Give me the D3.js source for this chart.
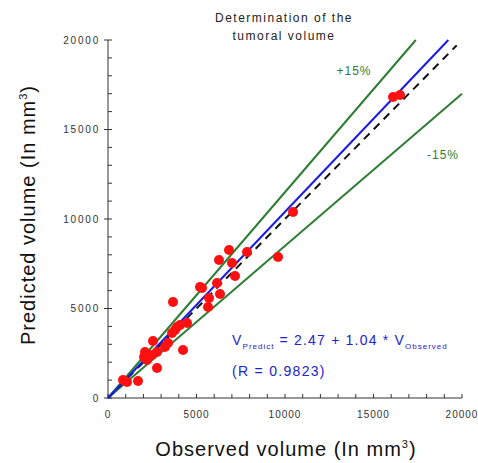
<!DOCTYPE html>
<html>
<head>
<meta charset="utf-8">
<script src="https://cdn.jsdelivr.net/npm/d3@7"></script>
<style>
  body { margin: 0; background: #fff; }
  text { font-family: "Liberation Sans", Arial, sans-serif; }
</style>
</head>
<body>
<div class="chart"></div>
<script>
// observed vs predicted tumoral volume (mm3)
const observed = [848, 1074, 1695, 2090, 2034, 2204, 2486, 2543, 2769, 2769, 3221, 3390, 3616, 3786, 3899, 4068,
    4238, 4464, 3673, 5198, 5311, 5650, 5707, 6159, 6328, 6272, 7006, 7176, 6837, 7854, 9605, 10453, 16103, 16498];
const predicted = [1006, 894, 950, 2570, 2291, 2123, 2402, 3185, 2570, 1676, 2849, 3073, 3632, 3799, 3967, 4079,
    2682, 4190, 5364, 6202, 6146, 5084, 5587, 6425, 5810, 7710, 7542, 6816, 8269, 8157, 7878, 10392, 16817, 16929];
const xTicks = [0, 5000, 10000, 15000, 20000];
const yTicks = [0, 5000, 10000, 15000, 20000];

const intercept = 2.47, slope = 1.04;

const W = 478, H = 463;
const margin = { top: 40, right: 16, bottom: 65, left: 108 };

const svg = d3.select(".chart")
    .append("svg")
    .attr("width", W)
    .attr("height", H)
    .append("g")
    .attr("transform", `translate(${margin.left},${margin.top})`);

const x = d3.scaleLinear().domain([0, 20000]).range([0, 354]);
const y = d3.scaleLinear().domain([0, 20000]).range([358, 0]);

const minor = d3.range(0, 20001, 1000);

// x axis
const xg = svg.append("g").attr("transform", `translate(0,${y(0)})`);
xg.append("line").attr("x1", 0).attr("x2", x(20000)).attr("stroke", "#333");
xg.selectAll(".mt").data(minor).join("line")
    .attr("x1", d => x(d)).attr("x2", d => x(d))
    .attr("y1", 0).attr("y2", -4)
    .attr("stroke", "#333");
xg.selectAll(".lab").data(xTicks).join("text")
    .attr("x", d => x(d)).attr("y", 20)
    .attr("text-anchor", "middle")
    .style("font-size", "10px").style("letter-spacing", "1px").attr("fill", "#333")
    .text(d => d);

// y axis
const yg = svg.append("g");
yg.append("line").attr("y1", y(0)).attr("y2", y(20000)).attr("stroke", "#333");
yg.selectAll(".mt").data(minor).join("line")
    .attr("y1", d => y(d)).attr("y2", d => y(d))
    .attr("x1", d => yTicks.includes(d) ? -4 : 0).attr("x2", 4)
    .attr("stroke", "#333");
yg.selectAll(".lab").data(yTicks).join("text")
    .attr("x", -8).attr("y", d => y(d)).attr("dy", "0.35em")
    .attr("text-anchor", "end")
    .style("font-size", "10px").style("letter-spacing", "1.8px").attr("fill", "#333")
    .text(d => d);

// reference lines
const green = "#2e7d32";
svg.append("line")
    .attr("x1", x(0)).attr("y1", y(0))
    .attr("x2", x(20000 / 1.15)).attr("y2", y(20000))
    .attr("stroke", green).attr("stroke-width", 2);
svg.append("line")
    .attr("x1", x(0)).attr("y1", y(0))
    .attr("x2", x(20000)).attr("y2", y(17000))
    .attr("stroke", green).attr("stroke-width", 2);
svg.append("line")
    .attr("x1", x(0)).attr("y1", y(0))
    .attr("x2", x(19700)).attr("y2", y(19700))
    .attr("stroke", "#111").attr("stroke-width", 2)
    .attr("stroke-dasharray", "8,6");
const xEnd = (20000 - intercept) / slope;
svg.append("line")
    .attr("x1", x(0)).attr("y1", y(intercept))
    .attr("x2", x(xEnd)).attr("y2", y(intercept + slope * xEnd))
    .attr("stroke", "#1a1ae6").attr("stroke-width", 2);

// points
svg.selectAll(".pt").data(observed).join("circle")
    .attr("cx", d => x(d))
    .attr("cy", (d, i) => y(predicted[i]))
    .attr("r", 5)
    .attr("fill", "#ff1010");

// labels
svg.append("text").attr("x", 246).attr("y", 35).attr("fill", green)
    .attr("text-anchor", "middle").style("font-size", "12px").style("letter-spacing", "1px").text("+15%");
svg.append("text").attr("x", 335).attr("y", 119).attr("fill", green)
    .attr("text-anchor", "middle").style("font-size", "12px").style("letter-spacing", "1px").text("-15%");

const eq = svg.append("text").attr("x", 124).attr("y", 305).attr("fill", "#2323d0")
    .style("font-size", "14px").style("letter-spacing", "1.2px");
eq.append("tspan").text("V");
eq.append("tspan").attr("dy", 4).style("font-size", "8px").style("letter-spacing", "1px").text("Predict");
eq.append("tspan").attr("dy", -4).text(" = 2.47 + 1.04 * V");
eq.append("tspan").attr("dy", 4).style("font-size", "8px").style("letter-spacing", "1px").text("Observed");
svg.append("text").attr("x", 124).attr("y", 336).attr("fill", "#2323d0")
    .style("font-size", "14px").style("letter-spacing", "1.3px").text("(R = 0.9823)");

// title
const title = svg.append("text").attr("text-anchor", "middle").style("font-size", "12px")
    .style("letter-spacing", "1.5px").attr("fill", "#222");
title.append("tspan").attr("x", 176).attr("y", -18).text("Determination of the");
title.append("tspan").attr("x", 176).attr("y", 0).text("tumoral volume");

// axis titles
const xl = svg.append("text").attr("x", 178).attr("y", 416)
    .attr("text-anchor", "middle").style("font-size", "20px").style("letter-spacing", "1px").attr("fill", "#111");
xl.append("tspan").text("Observed volume (In mm");
xl.append("tspan").attr("dy", -8).style("font-size", "11px").text("3");
xl.append("tspan").attr("dy", 8).text(")");

const yl = svg.append("text")
    .attr("transform", `translate(-73,${y(10000) - 4}) rotate(-90)`)
    .attr("text-anchor", "middle").style("font-size", "20px").style("letter-spacing", "1px").attr("fill", "#111");
yl.append("tspan").text("Predicted volume (In mm");
yl.append("tspan").attr("dy", -8).style("font-size", "11px").text("3");
yl.append("tspan").attr("dy", 8).text(")");
</script>
</body>
</html>
